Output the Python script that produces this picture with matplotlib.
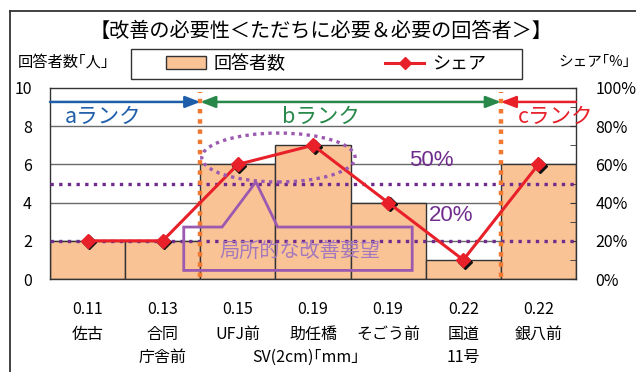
import matplotlib
matplotlib.use("Agg")
import matplotlib.pyplot as plt
import matplotlib.patches as mpatches
import matplotlib.lines as mlines
from matplotlib.transforms import offset_copy
import numpy as np

plt.rcParams["font.family"] = ["Noto Sans CJK JP", "DejaVu Sans"]

# 地点ごとのデータ
sv_values = ["0.11", "0.13", "0.15", "0.19", "0.19", "0.22", "0.22"]
names     = ["佐古", "合同", "UFJ前", "助任橋", "そごう前", "国道", "銀八前"]
names2    = ["", "庁舎前", "", "", "", "11号", ""]
counts    = [2, 2, 6, 7, 4, 1, 6]
shares    = [20, 20, 60, 70, 40, 10, 60]

BAR_FC   = "#F9C396"
RED      = "#E8202A"
PURPLE   = "#702C8C"
PURPLE_L = "#9B59B0"
ORANGE   = "#F07830"
BLUE     = "#1F5FAA"
GREEN    = "#27884A"

W, H = 636, 372
fig = plt.figure(figsize=(W / 100, H / 100), dpi=100)
ax = fig.add_axes([50 / W, 1 - 279 / H, 526 / W, 191 / H])

x = np.arange(len(counts))

# 目盛線と棒
for yv in [2, 4, 6, 8]:
    ax.axhline(yv, color="#6a6a6a", lw=1.0, zorder=0)
ax.bar(x, counts, width=1.0, color=BAR_FC, edgecolor="#333333", lw=1.0, zorder=1)

ax.set_xlim(-0.5, len(counts) - 0.5)
ax.set_ylim(0, 10)
ax.set_yticks(range(0, 11, 2))
ax.tick_params(axis="y", length=0, pad=13, labelsize=11.5)
ax.set_xticks([])
for s in ax.spines.values():
    s.set_color("#333333")
    s.set_linewidth(1.0)

# シェア（右軸）
ax2 = ax.twinx()
ax2.set_ylim(0, 100)
ax2.set_yticks(range(0, 101, 20))
ax2.set_yticks(range(10, 100, 20), minor=True)
ax2.set_yticklabels([f"{v}%" for v in range(0, 101, 20)])
ax2.tick_params(axis="y", which="both", direction="in", length=4, pad=14,
                labelsize=11.5, color="#333333")
for s in ax2.spines.values():
    s.set_visible(False)

# 50%・20% の基準線
ax2.axhline(50, color=PURPLE, lw=2.4, ls=(0, (1, 1.6)), zorder=3)
ax2.axhline(20, color=PURPLE, lw=2.4, ls=(0, (1, 1.6)), zorder=3)

# ランク区切り
for xv in [1.5, 5.5]:
    ax2.plot([xv, xv], [1, 98], color=ORANGE, lw=3.2, ls=(0, (1, 1.3)), zorder=4)

# 影付きの菱形マーカー
shadow = offset_copy(ax2.transData, fig=fig, x=1.6, y=-1.6, units="dots")
ax2.plot(x, shares, ls="none", marker="D", ms=7.5, color="#111111", transform=shadow, zorder=5)
ax2.plot(x, shares, color=RED, lw=2.2, marker="D", ms=7.5, zorder=6)

# 局所的な改善要望の楕円と吹き出し
ell = mpatches.Ellipse((2.54, 63.6), 2.04, 25.6, fill=False, ec=PURPLE_L, lw=2.4,
                       ls=(0, (1, 1.3)), zorder=7)
ax2.add_patch(ell)
box_pts = [(1.79, 27.2), (1.28, 27.2), (1.28, 4.5), (4.32, 4.5), (4.32, 27.2),
           (2.53, 27.2), (2.24, 50.8), (1.79, 27.2)]
ax2.add_patch(mpatches.Polygon(box_pts, closed=True, fill=False, ec=PURPLE_L, lw=2.0, zorder=7))
ax2.text(2.83, 14.5, "局所的な改善要望", color="#A478BC", fontsize=14.5, ha="center", va="center",
         zorder=8)

ax2.text(4.58, 62, "50%", color=PURPLE, fontsize=16, ha="center", va="center", zorder=8,
         family=["Liberation Sans", "DejaVu Sans"])
ax2.text(4.84, 33.5, "20%", color=PURPLE, fontsize=16, ha="center", va="center", zorder=8,
         family=["Liberation Sans", "DejaVu Sans"])

# ランクの矢印
ay = 92.7
head = "head_length=0.9,head_width=0.35"
ax2.annotate("", xy=(1.5, ay), xytext=(-0.5, ay),
             arrowprops=dict(arrowstyle="-|>," + head, color=BLUE, lw=1.8,
                             shrinkA=0, shrinkB=0), zorder=8)
ax2.annotate("", xy=(5.5, ay), xytext=(1.5, ay),
             arrowprops=dict(arrowstyle="<|-|>," + head, color=GREEN, lw=1.8,
                             shrinkA=0, shrinkB=0), zorder=8)
ax2.annotate("", xy=(5.5, ay), xytext=(6.5, ay),
             arrowprops=dict(arrowstyle="-|>," + head, color=RED, lw=1.8,
                             shrinkA=0, shrinkB=0), zorder=8)
ax2.text(0.2, 85, "aランク", color=BLUE, fontsize=15.5, ha="center", va="center", zorder=8)
ax2.text(3.1, 85, "bランク", color=GREEN, fontsize=15.5, ha="center", va="center", zorder=8)
ax2.text(6.23, 85, "cランク", color=RED, fontsize=15.5, ha="center", va="center", zorder=8,
         clip_on=False)

# 横軸ラベル（3段）
xtr = ax.get_xaxis_transform()
for i in x:
    ax.text(i, -0.16, sv_values[i], transform=xtr, ha="center", va="center", fontsize=11.5)
    ax.text(i, -0.29, names[i], transform=xtr, ha="center", va="center", fontsize=11.5)
    if names2[i]:
        ax.text(i, -0.41, names2[i], transform=xtr, ha="center", va="center", fontsize=11.5)
ax.text(2.9, -0.41, "SV(2cm)｢mm｣", transform=xtr, ha="center", va="center", fontsize=11.5)

# タイトル・軸名・凡例
fig.text(321 / W, 1 - 31 / H, "【改善の必要性＜ただちに必要＆必要の回答者＞】", ha="center",
         va="center", fontsize=14.5)
fig.text(63 / W, 1 - 62 / H, "回答者数｢人｣", ha="center", va="center", fontsize=11)
fig.text(594 / W, 1 - 62 / H, "シェア｢%｣", ha="center", va="center", fontsize=10.5)

fig.patches.append(mpatches.Rectangle((131 / W, 1 - 79 / H), 391 / W, 30 / H, fill=False,
                                      ec="#333333", lw=1.0, transform=fig.transFigure))
h_bar = mpatches.Patch(fc=BAR_FC, ec="#333333", lw=1.0)
h_line = mlines.Line2D([], [], color=RED, lw=2.2, marker="D", ms=6)
fig.legend([h_bar, h_line], ["回答者数", "シェア"], loc="center",
           bbox_to_anchor=(326 / W, 1 - 64 / H), ncol=2, frameon=False, fontsize=13,
           columnspacing=5.5, handlelength=2.2, handletextpad=0.4)

# 外枠
fig.add_artist(mlines.Line2D([10 / W, 10 / W], [0, 1 - 11 / H], color="#333333", lw=1.3,
                             transform=fig.transFigure))
fig.add_artist(mlines.Line2D([10 / W, 1], [1 - 11 / H, 1 - 11 / H], color="#333333", lw=1.3,
                             transform=fig.transFigure))

fig.savefig("out.png", dpi=100)
